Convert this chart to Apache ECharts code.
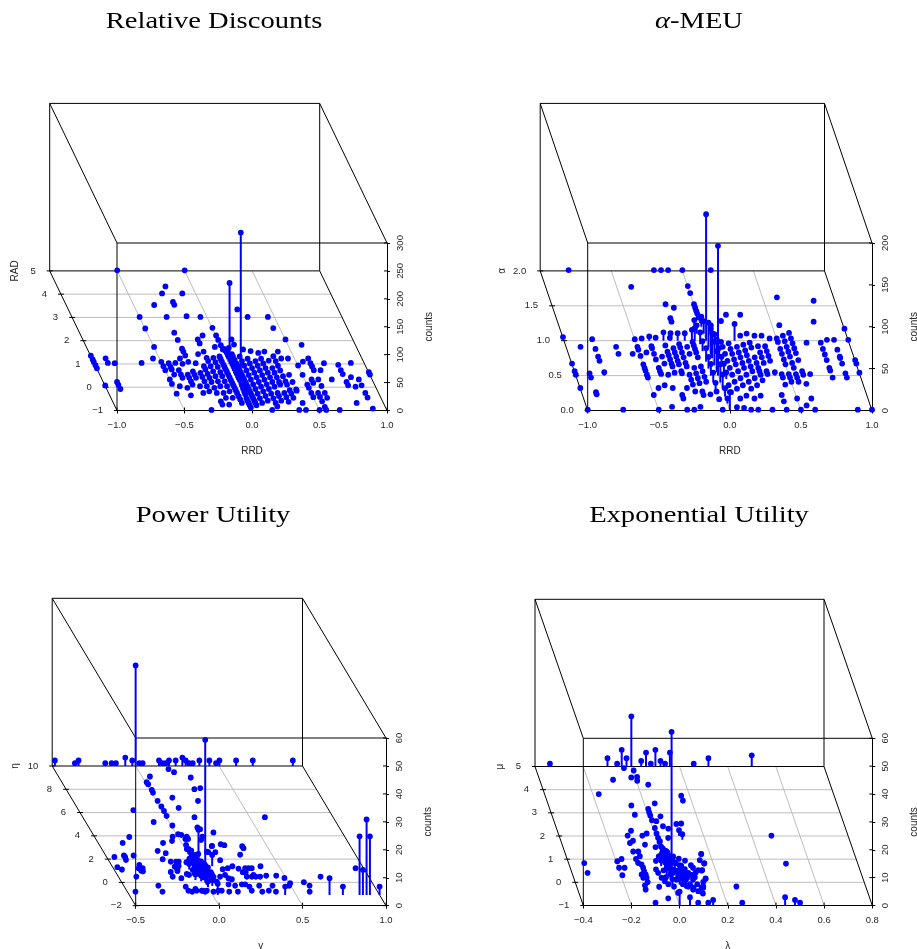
<!DOCTYPE html>
<html><head><meta charset="utf-8">
<style>html,body{margin:0;padding:0;background:#fff}#c{width:917px;height:949px}</style>
<script src="https://cdn.jsdelivr.net/npm/echarts@6/dist/echarts.min.js"></script>
</head><body><div id="c"></div>
<script>
// ---- data: [x, [y | [y, count], ...]] columns; a bare y has count 1
const discountColumns = [
[-1,[1.33,1.17,1.07,.92,.79,.05]],[-.9,[1.22,1.02,.2,.08,-.1]],[-.85,[1.01]],[-.65,[1.02]],[-.55,[1.21]],
[-.5,[5,3,2.5,1.71,1.07,.88,.71,.31,.12,-.3]],[-.45,[1.01,.85,.74,.52,.02]],[-.4,[1.02,.71,.52,.38,-.05,-.37]],
[-.35,[3.51,1.21,.98,.52,.38,.23,.09]],[-.3,[3,2.32,2.01,1.63,1.51,1.34,1.07,.66,.52,.38,.02,-.27,-1]],
[-.25,[4.01,1.01,.59,.42,.23,.02,-.2]],[-.2,[4.31,3.64,3.52,1.4,.88,.74,.55,.38,.2,-.05,-.27,-.63,-.77]],
[-.15,[3.03,2.03,1.86,1.51,1.24,1.1,.88,.66,.45,.23,.02,-.27,-.48,-.77]],[-.1,[4.01,2.2,1.24,1.05,.85,.62,.45,.23,.02,-.2,-.48]],
[-.05,[3,1.71,1.3,1.2,1.08,.95,.85,.74,.63,.52,.4,.28,.16,.05,-.05,-.16,-.27,-.41,-.55,-.7]],
[0,[5,2.53,2.2,2.01,1.78,1.6,[1.5,6],[1.4,8],[1.3,10],[1.2,12],[1.1,10],[1,145],[.9,14],[.8,16],[.7,14],[.6,12],[.5,14],[.4,10],[.3,12],[.2,9],[.1,10],[0,277],[-.1,8],[-.2,6],[-.3,5],[-.4,4],-.5,-.6,-.7,-.8,-.9]],
[.05,[1.67,1.4,1.3,1.15,1,.9,.8,.7,.6,.5,.4,.3,.2,.1,0,-.1,-.2,-.3,-.4,-.5,-.6,-.7,-.8]],[.1,[2.03,1.81,1.3,1.1,.9,.7,.5,.3,.1,-.1,-.3,-.5,-.7]],
[.15,[1.6,1.2,1,.8,.6,.4,.2,0,-.2,-.4,-.6,-1]],[.2,[1.53,1.1,.9,.7,.5,.3,.1,-.1,-.3,-.5,-.7,-.85]],
[.25,[3.32,1.45,1.2,1,.8,.6,.4,.2,0,-.27,-.4,-.6]],[.3,[3,1.51,1.12,.8,.6,.4,.2,.09,-.27,-.45,-.65]],
[.35,[1.31,1.1,.9,.7,.45,.23,.09,-.15,-.3,-.48,-1]],[.4,[1.51,1.21,.51,.2,-.12,-.17,-.7,-1]],[.45,[3,2.52,1.21]],
[.5,[2.03,.91,.51,.09,-.05,-.27,-.45,-1]],[.55,[1.08,.31,.16,-.27,-.44,-.63,-.87,-1]],[.6,[1.8,1.21,1.01,.87,.71,.31,.03,-.27,-.48]],
[.65,[.71,-1]],[.7,[1.01,.31]],[.8,[.94,.71,.54,.2,.06,-.7]],[.85,[.41,0]],[.9,[1.02,.31,.06,-.27,-.47,-.94]],[1,[.62,.52]]
];
const meuColumns = [
[-1,[1.04,.66,.55,.5,.31,0]],[-.9,[.9,.52,.46,.25,.22]],[-.8,[2,1.01,.87,.76,.7,[.5,4]]],[-.75,[0]],[-.65,[.9,.8]],[-.55,[.8]],
[-.5,[1.01,.9,.86,.77,.65,.6,.56,.5,.46,.21,0]],[-.45,[1.02,.82,.31]],[-.4,[1.76,[1,5],.91,.88,.8,.72,.6,.55,[.5,2],.35,.04]],
[-.35,[1.03,.76,.66,.5,.31]],[-.3,[[1,10],.92,.83,.78,.72,.66,.62,.53,.21,.16,0]],[-.25,[[1,9],1.03,.88,.82,.76,.7,.65,.55,.52,.31,0]],
[-.2,[2,1.51,1.31,1.26,[1,9],.94,.89,.82,.75,.67,.62,.5,.43,.36,.26,.04]],[-.15,[2,1.46,[1,9],.9,.8,.6,.52,.45,.38,.26,.21]],
[-.1,[2,[1,13],.97,.92,.87,.82,.75,.62,.55,.47,.4,.22]],[-.08,[[1,15]]],[-.05,[[1.2,8],[1.1,10],[.95,14],[.85,12],[.7,16],[.6,14],[.5,14],[.4,12],[.3,8],.26,.15,0]],
[0,[2,1.77,1.67,1.51,1.46,1.42,1.38,1.32,[1.25,8],[1.2,12],[1.1,15],[1,151],[.9,30],[.8,35],[.75,30],[.65,28],[.55,25],[.5,155],[.4,22],[.3,18],[.2,10],[.1,6],[0,22]]],
[.05,[[1.1,6],[.95,12],[.85,14],[.75,12],[.65,10],[.55,10],[.45,8],.35,.25,[0,4]]],[.1,[.97,.9,.8,.7,.6,.5,.4,.3,.16,[0,3]]],[.15,[1.27,.95,.87,.8,.72,.65,.55,.45,.35,.2,0]],
[.2,[2,1.36,[1,20],.9,.82,.75,.67,.6,.5,.4,.3,.16,0]],[.25,[1.06,.93,.85,.78,.7,.62,.55,.45,.35,.2]],[.3,[1.36,1.09,.96,.89,.75,.67,.6,.55,.5,.42,0]],
[.35,[1.06,.91,.82,.75,.67,.55,.51]],[.4,[1.06,.91,.84,.77,.7,[.5,4],.21,.12,0]],[.45,[1.02,.51,.46,.36]],
[.5,[1.02,.97,.87,.8,.72,.65,.51,.46,.4,.16,0]],[.55,[1.21,1.06,.98,.9,.83,.76,.67,.6,.51,.46,.4,.06]],
[.6,[1.61,1.1,1.02,.95,.88,.81,.71,.55,.5,.37,.16,0]],[.65,[.51]],[.7,[.96]],[.8,[1.26,.96,.87,.79,.71,.6,.56,.46]],[.85,[1.56,1]],
[.9,[1,.86,.76,.74,.66,.52,.46,0]],[1,[1.16,1,.71,.66,.53,0]]
];
// ---- data: [x, y, count]; missing count is 1
const powerPoints = [
[-.484,10,2],[-.364,10],[-.342,10,2],[-.182,10],[-.144,10],[-.118,10],[-.062,10,3],[-.02,10,2],[0,10,36],[.022,10],[.042,10],[.14,10,2],[.16,10],[.18,10],[.2,10,2],[.24,10,2],[.28,10,3],[.3,10,2],[.32,10],[.342,10],[.382,10,2],[.442,10,2],[.482,10],[.502,10,2],[.602,10,2],[.702,10,2],[.942,10,2],
[.176,9.5],[.198,9.23],[.038,8.86],[-.002,8.37],[0,8.2],[.279,8.77],[.259,7.77],[.298,7.86],[.001,7.71],[-.001,7.48],[.097,7.05],[.239,6.77],[-.003,6.77],[-.001,6.28],[-.001,5.9],[-.003,5.48],[.098,6.17],[-.182,5.97],[.159,5.36],[-.102,4.96],[-.003,4.65],[.14,4.48],[.218,4.05],[0,3.9],[.017,3.85],[-.041,3.7],[.043,3.7],[.027,3.5],[.043,3.5],[-.06,3.33],[-.302,3.67],[-.363,3.16],[-.121,3.16],[.01,2.99],[0,2.64],[.162,2.9],[.11,2.41],[.159,2.36],[-.182,2.47],[-.142,2.27],[-.463,1.95],[-.401,2.07],[-.399,1.93],[-.404,1.7],[-.343,2.07],[-.182,1.75],[-.482,1.07],[-.463,.87],[-.342,1.27],[-.358,.98],[-.334,.98],[-.352,.78],[-.343,.72],[-.402,.26],[-.461,-1.03],[-.302,-.51],[-.299,-1.03],
[-.142,1.55],[-.11,1.55],[-.094,1.55],[-.136,1.12],[-.13,.89],[-.11,1.18],[-.179,.66],[-.184,.26],[-.135,.75],[-.138,.12],[-.09,.49],[-.038,1.41],[-.08,.41],[-.142,-.6],[-.14,-.94],[-.121,-1.03],[-.092,-.8],[-.06,-.94],[-.043,-1.03],[.028,1.64,12],[0,0,51],
[0,2.4,2],[0,2.2,2],[0,2,3],[0,1.8,2],[0,1.6,3],[0,1.4,4],[0,1.2,3],[0,1,6],[0,.8,4],[0,.6,5],[0,.4,3],[0,.2,4],[0,-.2,3],[0,-.4,2],[.02,1.5],[.02,1],[.02,.7,2],[.02,.3,2],[-.02,1.8],[-.02,1.3,2],[-.02,.9,2],[-.02,.5,2],[-.02,.1,2],[.05,1.2],[.05,.8,2],[.05,.4,2],[.05,0,2],[-.05,1.5],[-.05,1.1,2],[-.05,.6,2],[-.05,.2,2],
[.01,1.1,3],[.01,.7,4],[.01,.5,4],[.01,.3,5],[.01,.1,4],[-.01,.9,3],[-.01,.6,4],[-.01,.4,4],[-.01,.2,3],[.03,.9,3],[.03,.5,3],[.03,.1,3],[.03,-.3,2],
[.581,5.36],[.22,3.04],[.238,2.96],[.341,2.87],[.342,2.7],[.159,2.87],[.117,2.36],[.299,2.15],[.159,1.67],[.1,1.4,4],[.379,1.15],[.211,1.15],[.142,.89],[.176,.98],[.239,.95],[.28,.98],[.3,.98],[.32,.98],[.252,.64],[.269,.64],[.306,.41],[.314,.26],[.34,.26],[.38,.35],[.44,.35],[.481,.15],[.702,.26],[.7,-1.08,6],[.78,-1.08,3],[.88,-1.08,21],[.922,-1.08,27],[.942,-1.08,21],[.942,.98],[.9,-1.08,9],[1,-1.08,3],[.582,-.22],[.604,-.51],[.583,-1.03],[.496,-.31],[.434,-1.08,3],[.482,-.51],[.382,-.51],[.381,-1.03],[.342,-.94],[.299,-1.03],[.302,-.51],[.24,-.94],[.24,-.6],[.223,-.4],[.203,-.4],[.153,-1.03],[.158,-.51],[.123,-.4],[.101,-1.03],[.06,-.94],[.04,-.94],[.03,-1.08,4],[.007,-1.03],[-.03,-.94],[-.054,-.94],[-.091,-.94],[.062,-.17],[.144,.12],[.161,.03],[.1,.26],[.136,.41],[.059,.46],[.26,.26],[.29,.26],[.137,3.7],[.118,3.42],[.15,4.33]
];
const expPoints = [
[-.338,5],[0,5,18],[-.099,5,3],[-.059,5],[-.04,5,6],[-.02,5,3],[.041,5,2],[.061,5,5],[.081,5],[.1,5,6],[.121,5,2],[.14,5],[.16,5,5],[.259,5],[.32,5,3],[.5,5,4],
[-.037,4.81],[0,4.71],[-.099,4.31],[-.02,4.41],[.005,4.43],[0,4.27],[.04,4.1],[-.179,3.69],[-.06,3.2],[.04,3.29],[.161,3.62],[.161,3.41],[.005,3.05],[.004,2.9],[.004,2.77],[.004,2.56],[.021,2.52],[.045,2.73],[-.059,2.8],[.005,2.23],[.041,2.3],[.06,2.2],[.1,2.4],[.121,2.42],[.098,2.01,2],[.106,1.84,2],[.046,1.8],[.004,1.99],[.004,1.8],[.007,1.66],[-.098,2.11],[-.119,1.9],[-.12,1.58],[-.104,1.68],[-.058,1.9],[-.037,1.99],[-.06,1.51],[-.119,1.21],[-.098,1.21],[-.098,1.01],[-.118,.89],[-.115,.72],[-.199,.79],[-.178,.89],[-.201,.51],[-.178,.51],[-.198,.19],[-.339,.71],[-.339,.29],
[-.103,.65],[-.101,.51],[-.102,.36],[-.1,.22],[-.101,.08],[-.103,-.11],[-.119,-.25],[-.122,-.43],[-.117,.22],[-.115,.08],[-.1,-1],[-.041,-.81],[-.062,-.31],[-.038,.81],[-.015,1.01],[-.05,.44],[-.046,.29],[-.039,.08],[-.03,-.07],
[0,1.5,2],[0,1.3,2],[0,1.1,3],[0,.9,4],[0,.7,3],[0,.5,4],[0,.3,3],[0,.1,2],[0,0,54],[0,-.1,2],[0,-.3],[.02,1.2],[.02,.9,2],[.02,.6,2],[.02,.3,2],[.02,0],[-.02,1.4],[-.02,1],[-.02,.7,2],[-.02,.4],[-.02,.1],[-.02,-.2],[.04,1],[.04,.7],[.04,.4],[.04,.1],[.04,-.2],[.06,.9],[.06,.6],[.06,.3],[.06,0],[.06,-.3],
[.01,1,3],[.01,.8,4],[.01,.6,4],[.01,.4,4],[.01,.2,3],[-.01,.9,3],[-.01,.5,3],[-.01,.3,3],[.03,.8,2],[.03,.5,3],[.03,.2,2],[.03,-.1,2],[.05,.5,2],[.05,.2,2],[.05,-.1],[.07,.45],[.07,.1],[.07,-.2],[.08,-.35],[.09,.2],[.1,.1],[.1,-.2],[.11,.3],[.11,-.6],
[.083,.82],[.16,1.11],[.145,.84],[.16,.71],[.101,.62],[.106,.51],[.124,.41],[.141,.41],[.143,.05],[.128,-.1],[.113,-.35],[.008,-.57],[0,-1,5],[.043,-1,3],[.077,-1],[.119,-1],[.139,-1,2],[.055,0],[.053,-.28],[.075,-.43],[.094,-.5],[.122,-.28],[.079,.29],[.056,.22],[.032,.15],[.063,.44],[.089,0],
[.478,1.9],[.498,.69],[.259,-.3],[.16,1.1],[.158,.69],[.138,.39],[.142,.03],[.12,-.35],[.26,-1],[.438,-1,3],[.479,-1,2],[.5,-1]
];
// ---- tick labels
const discountXTicks=[-1,-.5,0,.5,1], discountDepthTicks=[-1,0,1,2,3,4,5], discountCountTicks=[0,50,100,150,200,250,300];
const meuXTicks=[-1,-.5,0,.5,1], meuDepthTicks=[0,.5,1,1.5,2], meuCountTicks=[0,50,100,150,200];
const powerXTicks=[-.5,0,.5,1], powerDepthTicks=[-2,0,2,4,6,8,10], powerCountTicks=[0,10,20,30,40,50,60];
const expXTicks=[-.4,-.2,0,.2,.4,.6,.8], expDepthTicks=[-1,0,1,2,3,4,5], expCountTicks=[0,10,20,30,40,50,60];

const flatten = cols => cols.flatMap(([x,ys]) => ys.map(v => Array.isArray(v) ? [x,v[0],v[1]] : [x,v,1]));
const triples = rows => rows.map(r => [r[0],r[1],r.length>2?r[2]:1]);

const SANS='"Liberation Sans",Arial,sans-serif', SERIF='"Liberation Serif",serif';
const panels=[
 {title:'Relative Discounts',tx:214,ty:22,l:117,r:387,t:243,b:410.5,dx:67.3,dy:139.6,xT:discountXTicks,dT:discountDepthTicks,cT:discountCountTicks,xd:1,dd:0,xName:'RRD',dName:'RAD',nameX:15,pts:flatten(discountColumns)},
 {title:'{i|α}-MEU',tx:699,ty:22,l:587.7,r:872,t:243,b:410.5,dx:47.5,dy:139.6,xT:meuXTicks,dT:meuDepthTicks,cT:meuCountTicks,xd:1,dd:1,xName:'RRD',dName:'α',nameX:502,pts:flatten(meuColumns)},
 {title:'Power Utility',tx:213,ty:516,l:135.7,r:386,t:738,b:905.7,dx:83.5,dy:139.7,xT:powerXTicks,dT:powerDepthTicks,cT:powerCountTicks,xd:1,dd:0,xName:'γ',dName:'η',nameX:15,pts:triples(powerPoints)},
 {title:'Exponential Utility',tx:699,ty:516,l:583.3,r:872.3,t:738.3,b:905.5,dx:48.3,dy:139,xT:expXTicks,dT:expDepthTicks,cT:expCountTicks,xd:1,dd:0,xName:'λ',dName:'μ',nameX:500,pts:triples(expPoints)}
];
const fmt=(v,d)=>(d?v.toFixed(d):String(v)).replace('-','−');
const option={animation:false,backgroundColor:'#fff',graphic:[],grid:[],xAxis:[],yAxis:[],series:[]};
const FG='#000', GRIDC='#bdbdbd', TXT='#262626', BLUE='#0000ff';
panels.forEach((p,i)=>{
 const xMin=p.xT[0],xMax=p.xT[p.xT.length-1],dMin=p.dT[0],dMax=p.dT[p.dT.length-1],cMax=p.cT[p.cT.length-1];
 const proj=(api,x,y,c)=>{const t=(y-dMin)/(dMax-dMin),q=api.coord([x,c]);return [q[0]-t*p.dx,q[1]-t*p.dy];};
 const line=(a,b,color,w)=>({type:'line',shape:{x1:a[0],y1:a[1],x2:b[0],y2:b[1]},style:{stroke:color,lineWidth:w}});
 option.graphic.push({type:'text',x:p.tx,y:p.ty,scaleX:1.19,silent:true,style:{text:p.title,font:'24px '+SERIF,fill:'#000',textAlign:'center',textVerticalAlign:'middle',rich:{i:{font:'italic 24px '+SERIF,fill:'#000'}}}});
 option.grid.push({left:p.l,top:p.t,width:p.r-p.l,height:p.b-p.t,containLabel:false,outerBoundsMode:'none'});
 option.xAxis.push({type:'value',gridIndex:i,min:xMin,max:xMax,interval:p.xT[1]-p.xT[0],position:'bottom',splitLine:{show:false},
  axisLine:{show:true,onZero:false,lineStyle:{color:FG,width:1}},axisTick:{show:true,length:3,lineStyle:{color:FG}},
  axisLabel:{margin:10,color:TXT,fontFamily:SANS,fontSize:9.5,formatter:v=>fmt(v,1),hideOverlap:false,showMinLabel:true,showMaxLabel:true},
  name:p.xName,nameLocation:'middle',nameGap:36,nameTextStyle:{color:TXT,fontFamily:SANS,fontSize:10}});
 option.yAxis.push({type:'value',gridIndex:i,min:0,max:cMax,interval:p.cT[1]-p.cT[0],position:'right',splitLine:{show:false},
  axisLine:{show:true,onZero:false,lineStyle:{color:FG,width:1}},axisTick:{show:true,length:3,lineStyle:{color:FG}},
  axisLabel:{rotate:90,margin:8,color:TXT,fontFamily:SANS,fontSize:9.5,hideOverlap:false,showMinLabel:true,showMaxLabel:true},
  name:'counts',nameLocation:'middle',nameRotate:90,nameGap:37,nameTextStyle:{color:TXT,fontFamily:SANS,fontSize:10}});
 // box, floor grid, depth axis
 option.series.push({type:'custom',xAxisIndex:i,yAxisIndex:i,coordinateSystem:'cartesian2d',silent:true,z:1,clip:false,data:[[xMin,0]],
  renderItem:(params,api)=>{
   const ch=[];
   p.dT.slice(1,-1).forEach(d=>ch.push(line(proj(api,xMin,d,0),proj(api,xMax,d,0),GRIDC,1)));
   p.xT.slice(1,-1).forEach(x=>ch.push(line(proj(api,x,dMin,0),proj(api,x,dMax,0),GRIDC,1)));
   const c=(x,d,h)=>proj(api,x,d,h);
   [[[xMin,dMax,0],[xMin,dMax,cMax]],[[xMin,dMax,cMax],[xMax,dMax,cMax]],[[xMax,dMax,cMax],[xMax,dMax,0]],[[xMax,dMax,0],[xMin,dMax,0]],
    [[xMin,dMin,0],[xMin,dMin,cMax]],[[xMin,dMin,cMax],[xMax,dMin,cMax]],
    [[xMin,dMax,cMax],[xMin,dMin,cMax]],[[xMax,dMax,cMax],[xMax,dMin,cMax]],[[xMin,dMax,0],[xMin,dMin,0]],[[xMax,dMax,0],[xMax,dMin,0]]]
    .forEach(s=>ch.push(line(c(...s[0]),c(...s[1]),FG,1)));
   p.xT.forEach(x=>{const q=api.coord([x,0]);ch.push(line([q[0],q[1]-3],q,FG,1));});
   p.cT.forEach(v=>{const q=api.coord([xMax,v]);ch.push(line([q[0]-3,q[1]],q,FG,1));});
   p.dT.forEach(d=>{const q=proj(api,xMin,d,0);
    ch.push(line([q[0]-3,q[1]],[q[0]+3,q[1]],FG,1));
    ch.push({type:'text',style:{x:q[0]-14,y:q[1],text:fmt(d,p.dd),textAlign:'right',textVerticalAlign:'middle',fill:TXT,font:'9.5px '+SANS}});});
   const mid=proj(api,xMin,dMax,0);
   ch.push({type:'text',x:p.nameX,y:mid[1],rotation:Math.PI/2,style:{x:0,y:0,text:p.dName,textAlign:'center',textVerticalAlign:'middle',fill:TXT,font:'10px '+SANS}});
   return {type:'group',children:ch};
  }});
 // stems and dots
 option.series.push({type:'custom',xAxisIndex:i,yAxisIndex:i,coordinateSystem:'cartesian2d',silent:true,z:3,clip:false,
  dimensions:['x','depth','counts'],encode:{x:0,y:2},data:p.pts,
  renderItem:(params,api)=>{
   const x=api.value(0),y=api.value(1),c=api.value(2);
   const a=proj(api,x,y,0),b=proj(api,x,y,c);
   return {type:'group',children:[line(a,b,BLUE,2),{type:'circle',shape:{cx:b[0],cy:b[1],r:2.9},style:{fill:BLUE}}]};
  }});
});
const chart=echarts.init(document.getElementById('c'),null,{renderer:'canvas',width:917,height:949});
chart.setOption(option);
</script></body></html>
